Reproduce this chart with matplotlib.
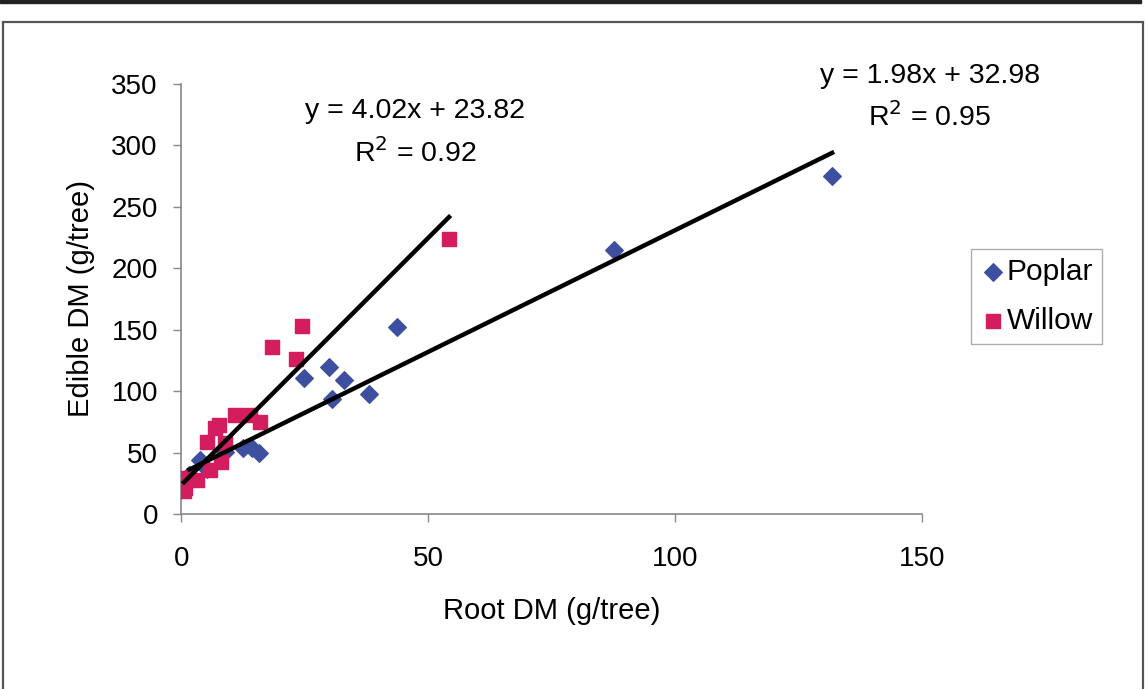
import matplotlib.pyplot as plt
from matplotlib.patches import Rectangle

plt.rcParams['font.family'] = ['Liberation Sans', 'DejaVu Sans']

# Root DM vs edible DM (g/tree)
poplar_root = [1.6, 3.7, 5.1, 8.8, 12.5, 14.2, 15.6, 24.8, 29.9, 33.0, 30.4, 38.0, 43.6, 87.6, 131.8]
poplar_edible = [32, 44, 37, 50.5, 53.7, 53.5, 49.4, 110.4, 119.9, 109, 93.6, 97.7, 152.5, 214.9, 275.1]

willow_root = [0.5, 0.7, 1.05, 3.1, 5.8, 8.1, 5.2, 8.8, 7.5, 6.8, 10.8, 13.9, 15.9, 18.3, 23.2, 24.5, 54.2]
willow_edible = [18.5, 21, 29, 27.7, 35.8, 42.6, 58.8, 57.5, 72.4, 70, 80.6, 80.6, 75.1, 135.7, 126.2, 153, 223.8]

# linear fits (slope, intercept, r2)
poplar_fit = (1.98, 32.98, 0.95)
willow_fit = (4.02, 23.82, 0.92)

x_ticks = [0, 50, 100, 150]
y_ticks = [0, 50, 100, 150, 200, 250, 300, 350]

fig = plt.figure(figsize=(11.48, 6.89), dpi=100)
ax = fig.add_axes([0.1581, 0.2540, 0.6450, 0.6241])

blue = '#3D4F9F'
red = '#D41D5F'

ax.scatter(poplar_root, poplar_edible, marker='D', s=80, color=blue, label='Poplar', zorder=3)
ax.scatter(willow_root, willow_edible, marker='s', s=100, color=red, label='Willow', zorder=3)

for xs, (m, b, r2) in [(poplar_root, poplar_fit), (willow_root, willow_fit)]:
    x0, x1 = min(xs), max(xs)
    ax.plot([x0, x1], [m * x0 + b, m * x1 + b], color='black', lw=3.2, zorder=4)

# fit equations
eq_size = 20.5
ax.text(47.3, 328, 'y = 4.02x + 23.82', ha='center', va='center', fontsize=eq_size)
ax.text(47.3, 294, 'R$^2$ = 0.92', ha='center', va='center', fontsize=eq_size)
ax.text(151.6, 356.5, 'y = 1.98x + 32.98', ha='center', va='center', fontsize=eq_size, clip_on=False)
ax.text(151.6, 323.1, 'R$^2$ = 0.95', ha='center', va='center', fontsize=eq_size, clip_on=False)

ax.set_xlim(0, 150)
ax.set_ylim(0, 350)
ax.set_xticks(x_ticks)
ax.set_yticks(y_ticks)
ax.tick_params(labelsize=20, length=6, width=1, color='#888888', direction='out')
ax.tick_params(axis='x', pad=17)
ax.tick_params(axis='y', pad=11)
for side in ['top', 'right']:
    ax.spines[side].set_visible(False)
for side in ['left', 'bottom']:
    ax.spines[side].set_color('#888888')
    ax.spines[side].set_linewidth(1.2)

ax.set_xlabel('Root DM (g/tree)', fontsize=21, labelpad=18)
ax.set_ylabel('Edible DM (g/tree)', fontsize=21, labelpad=12)

leg = fig.legend(loc='upper left', bbox_to_anchor=(971 / 1148, 1 - 249 / 689),
                 fontsize=21.5, frameon=True, fancybox=False, borderaxespad=0,
                 handletextpad=0.05, handlelength=0.85, labelspacing=0.7,
                 borderpad=0.3, scatterpoints=1)
leg.get_frame().set_edgecolor('#999999')
leg.get_frame().set_linewidth(1)

# outer chart frame and top rule
fig.patches.append(Rectangle((3 / 1148, -0.05), 1140 / 1148, 1.05 - 22 / 689,
                             transform=fig.transFigure, fill=False,
                             edgecolor='#555555', lw=1.6))
fig.patches.append(Rectangle((0, 1 - 3 / 689), 1141 / 1148, 3 / 689,
                             transform=fig.transFigure, color='#222222'))

fig.savefig('out.png', dpi=100)
